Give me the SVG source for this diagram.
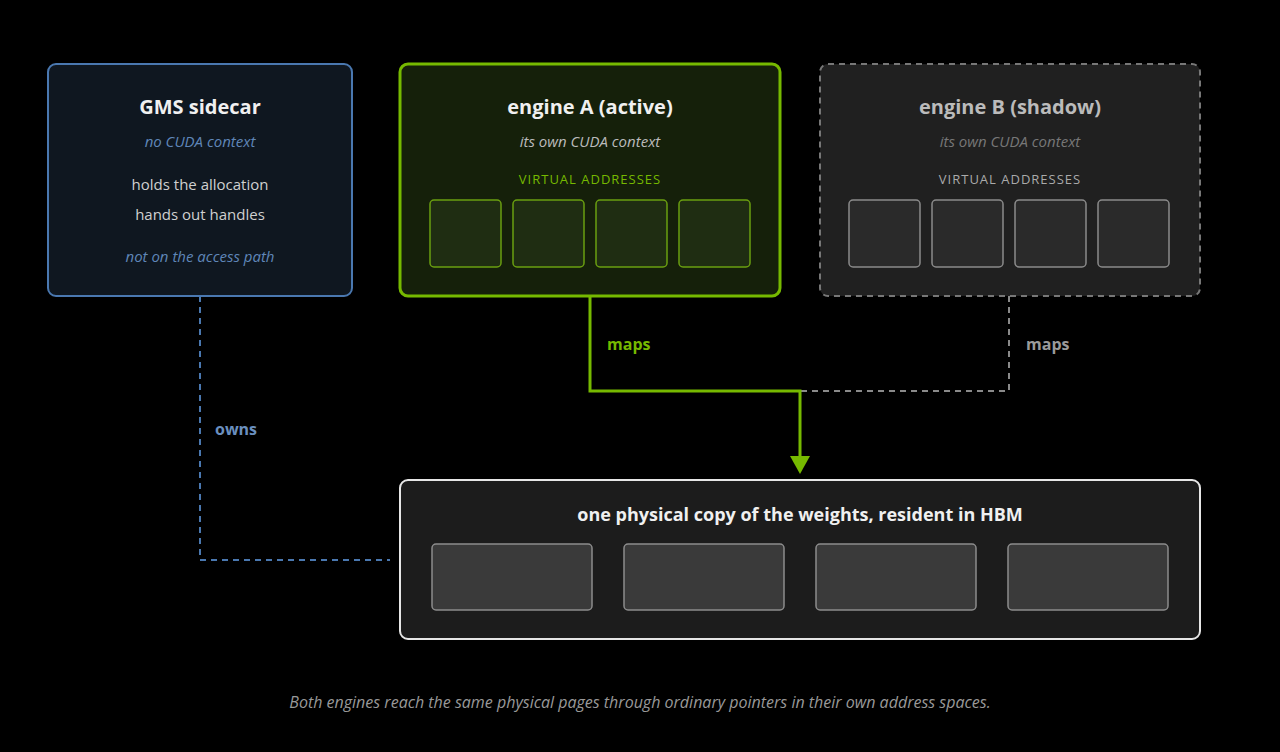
<svg xmlns="http://www.w3.org/2000/svg" width="1280" height="752" viewBox="0 0 1280 752">
<style>
text{font-family:"Open Sans","Noto Sans",sans-serif;text-anchor:middle}
.t{font-size:20px;font-weight:bold}
.i{font-size:15px;font-style:italic}
.b{font-size:15px;fill:#d0d0d0}
.va{font-size:13px;letter-spacing:1px}
.lbl{font-size:16px;font-weight:bold;text-anchor:start}
.va1{fill:#1f2d12;stroke:#6a9e10;stroke-width:1.5}
.vb{fill:#2a2a2a;stroke:#8a8a8a;stroke-width:1.5}
.ph{fill:#3a3a3a;stroke:#8c8c8c;stroke-width:1.5}
</style>
<defs><marker id="ag" viewBox="0 0 20 16" refX="10" refY="16" markerWidth="20" markerHeight="16" markerUnits="userSpaceOnUse" orient="auto-start-reverse"><path d="M0 0H20L10 16Z" fill="#76b900" transform="rotate(-90 10 8)"/></marker></defs>
<rect width="1280" height="752" fill="#000"/>
<g id="connectors" fill="none">
<path d="M1009 296V391H800" stroke="#8a8a8a" stroke-width="2" stroke-dasharray="6 5"/>
<path d="M200 296V560H390" stroke="#4a78b0" stroke-width="2" stroke-dasharray="6 5"/>
<path d="M590 296V391H800V458" stroke="#76b900" stroke-width="3"/>
<path d="M790 456H810L800 474Z" fill="#76b900"/>
<text class="lbl" x="607" y="350" fill="#76b900">maps</text>
<text class="lbl" x="1026" y="350" fill="#9a9a9a">maps</text>
<text class="lbl" x="215" y="435" fill="#6a8fbf">owns</text>
</g>
<g id="gms">
<rect x="48" y="64" width="304" height="232" rx="8" fill="#0f1720" stroke="#4a78b0" stroke-width="2"/>
<text class="t" x="200" y="114" fill="#f0f0f0">GMS sidecar</text>
<text class="i" x="200" y="147" fill="#5f86b8">no CUDA context</text>
<text class="b" x="200" y="190">holds the allocation</text>
<text class="b" x="200" y="220">hands out handles</text>
<text class="i" x="200" y="262" fill="#5f86b8">not on the access path</text>
</g>
<g id="engineA">
<rect x="400" y="64" width="380" height="232" rx="8" fill="#15200a" stroke="#76b900" stroke-width="3"/>
<text class="t" x="590" y="114" fill="#f0f0f0">engine A (active)</text>
<text class="i" x="590" y="147" fill="#bbbbbb">its own CUDA context</text>
<text class="va" x="590" y="184" fill="#76b900">VIRTUAL ADDRESSES</text>
<rect class="va1" x="430" y="200" width="71" height="67" rx="4"/>
<rect class="va1" x="513" y="200" width="71" height="67" rx="4"/>
<rect class="va1" x="596" y="200" width="71" height="67" rx="4"/>
<rect class="va1" x="679" y="200" width="71" height="67" rx="4"/>
</g>
<g id="engineB">
<rect x="820" y="64" width="380" height="232" rx="8" fill="#202020" stroke="#777" stroke-width="2" stroke-dasharray="6 5"/>
<text class="t" x="1010" y="114" fill="#bbbbbb">engine B (shadow)</text>
<text class="i" x="1010" y="147" fill="#777">its own CUDA context</text>
<text class="va" x="1010" y="184" fill="#aaaaaa">VIRTUAL ADDRESSES</text>
<rect class="vb" x="849" y="200" width="71" height="67" rx="4"/>
<rect class="vb" x="932" y="200" width="71" height="67" rx="4"/>
<rect class="vb" x="1015" y="200" width="71" height="67" rx="4"/>
<rect class="vb" x="1098" y="200" width="71" height="67" rx="4"/>
</g>
<g id="physical">
<rect x="400" y="480" width="800" height="159" rx="8" fill="#1c1c1c" stroke="#e6e6e6" stroke-width="2"/>
<text x="800" y="521" font-size="18" font-weight="bold" fill="#f0f0f0">one physical copy of the weights, resident in HBM</text>
<rect class="ph" x="432" y="544" width="160" height="66" rx="4"/>
<rect class="ph" x="624" y="544" width="160" height="66" rx="4"/>
<rect class="ph" x="816" y="544" width="160" height="66" rx="4"/>
<rect class="ph" x="1008" y="544" width="160" height="66" rx="4"/>
</g>
<text x="640" y="708" font-size="16" font-style="italic" fill="#999">Both engines reach the same physical pages through ordinary pointers in their own address spaces.</text>
</svg>
